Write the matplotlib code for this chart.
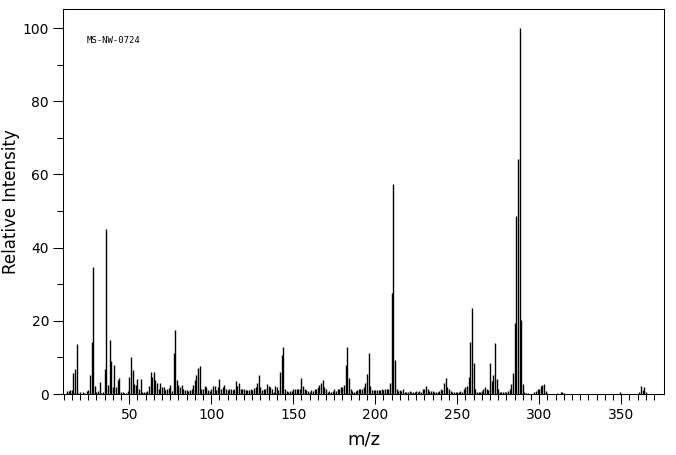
import matplotlib
matplotlib.use('Agg')
import matplotlib.pyplot as plt
from matplotlib.ticker import FixedLocator, MultipleLocator
from matplotlib import rcParams

fontsize = 10
linewidth = 0.75

rcParams['font.family'] = 'DejaVu Sans'
rcParams['font.size'] = fontsize
rcParams['axes.linewidth'] = linewidth
rcParams['xtick.major.width'] = linewidth
rcParams['xtick.minor.width'] = linewidth
rcParams['ytick.major.width'] = linewidth
rcParams['ytick.minor.width'] = linewidth

spectrum_id = 'MS-NW-0724'

# relative intensity for every m/z from 10 to 309, ten per row
mz_main = list(range(10, 310))
int_main = [
    0.0, 0.0, 0.7, 0.7, 1.0, 1.0, 5.8, 6.8, 13.7, 0.3,      # 10
    0.5, 0.0, 0.5, 0.3, 0.7, 1.0, 5.2, 14.2, 34.8, 2.2,     # 20
    0.5, 0.7, 3.3, 0.3, 0.5, 6.8, 45.2, 2.5, 14.7, 8.9,     # 30
    2.0, 7.8, 2.0, 3.7, 4.4, 0.5, 0.5, 0.3, 0.4, 0.7,       # 40
    4.6, 10.0, 6.7, 2.7, 2.4, 4.1, 1.5, 4.1, 0.6, 0.6,      # 50
    0.6, 0.9, 2.3, 6.1, 4.7, 6.1, 3.8, 3.1, 1.5, 2.9,       # 60
    1.8, 2.0, 1.0, 1.3, 1.6, 2.4, 0.8, 11.3, 17.5, 3.8,     # 70
    2.5, 2.0, 2.5, 1.5, 1.2, 1.2, 0.7, 1.0, 1.5, 2.5,       # 80
    3.8, 5.2, 7.0, 7.6, 1.5, 1.5, 2.2, 1.8, 1.2, 0.7,       # 90
    1.5, 2.2, 2.2, 1.2, 2.0, 4.1, 1.5, 1.8, 2.6, 1.3,       # 100
    1.1, 1.3, 1.3, 1.1, 1.5, 3.6, 2.2, 2.9, 1.5, 1.3,       # 110
    1.3, 1.1, 1.1, 1.0, 1.3, 1.1, 1.7, 2.0, 2.9, 5.2,       # 120
    1.8, 1.1, 1.5, 1.5, 2.7, 2.2, 1.8, 1.3, 0.6, 2.2,       # 130
    1.8, 1.1, 6.1, 10.7, 12.9, 1.3, 0.9, 0.6, 0.9, 0.9,     # 140
    1.3, 1.3, 1.5, 1.5, 1.5, 4.4, 2.2, 1.5, 1.1, 0.9,       # 150
    0.6, 1.1, 0.9, 1.3, 1.5, 1.8, 2.4, 2.9, 3.8, 1.8,       # 160
    1.3, 0.6, 0.9, 0.6, 0.9, 1.3, 0.9, 1.5, 1.5, 1.8,       # 170
    1.8, 2.4, 7.9, 12.9, 4.3, 1.3, 0.9, 0.6, 0.9, 1.1,      # 180
    1.3, 1.3, 1.5, 1.8, 2.9, 5.6, 11.3, 2.2, 1.0, 1.0,      # 190
    1.0, 1.0, 1.1, 1.1, 1.3, 1.1, 1.3, 1.5, 1.3, 2.9,       # 200
    27.5, 57.5, 9.3, 1.3, 0.9, 1.1, 0.9, 1.3, 0.6, 0.6,     # 210
    0.6, 0.8, 0.6, 0.6, 0.6, 0.8, 0.6, 0.9, 0.6, 1.5,       # 220
    1.3, 2.2, 1.3, 0.9, 0.9, 0.9, 0.6, 0.6, 0.6, 0.9,       # 230
    1.5, 1.2, 2.9, 4.4, 1.8, 1.3, 0.9, 0.6, 0.6, 0.6,       # 240
    0.6, 0.6, 0.9, 0.6, 1.3, 1.8, 2.2, 4.6, 14.3, 23.4,     # 250
    8.6, 1.5, 0.6, 0.6, 0.6, 0.9, 1.3, 1.8, 1.5, 1.2,       # 260
    8.6, 3.6, 5.2, 14.0, 4.1, 1.3, 0.6, 0.6, 0.6, 0.6,      # 270
    0.6, 0.9, 1.5, 2.7, 5.8, 19.5, 48.7, 64.2, 100.0, 20.2, # 280
    2.7, 0.6, 0.4, 0.3, 0.0, 0.0, 0.0, 0.6, 0.9, 1.3,       # 290
    1.5, 2.2, 2.4, 2.7, 0.9, 0.3, 0.0, 0.0, 0.0, 0.0,       # 300
]

# the few weak peaks above 310
mz_high = [311, 313, 314, 315, 349, 361, 362, 363, 364, 365]
int_high = [0.4, 0.5, 0.6, 0.4, 0.6, 0.6, 2.2, 1.2, 1.8, 0.6]

mz = mz_main + mz_high
intensity = int_main + int_high

x_major = [50, 100, 150, 200, 250, 300, 350]
x_minor = list(range(10, 371, 5))

fig = plt.figure(figsize=(6.76, 4.55), dpi=100)
ax = fig.add_axes([0.0932, 0.134, 0.8888, 0.846])

ax.vlines(mz, 0, intensity, colors='k', lw=1.0)

ax.set_xlim(9.6, 376)
ax.set_ylim(0, 105.2)
ax.xaxis.set_major_locator(FixedLocator(x_major))
ax.xaxis.set_minor_locator(FixedLocator(x_minor))
ax.yaxis.set_major_locator(MultipleLocator(20))
ax.yaxis.set_minor_locator(MultipleLocator(10))
ax.tick_params(which='major', direction='out', length=7, pad=3,
               labelsize=fontsize, top=False, right=False)
ax.tick_params(which='minor', direction='out', length=4, top=False, right=False)

ax.set_xlabel('m/z', fontsize=13, labelpad=6)
ax.set_ylabel('Relative Intensity', fontsize=12, labelpad=2)

ax.text(24, 96.5, spectrum_id, fontsize=6.5, family='DejaVu Sans Mono',
        va='center', ha='left')

fig.savefig('out.png', dpi=100)
